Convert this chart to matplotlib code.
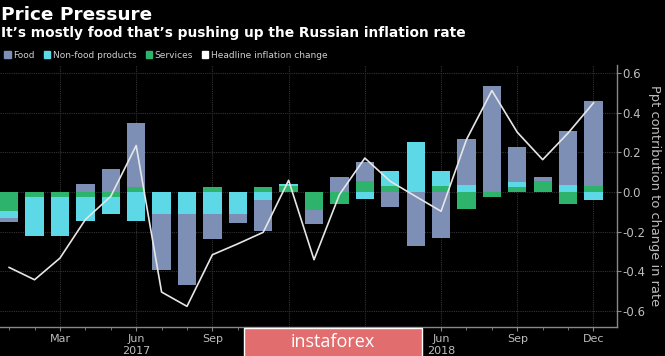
import matplotlib

matplotlib.use("Agg")
import matplotlib.pyplot as plt
import numpy as np
from matplotlib.patches import Patch, Rectangle

BG = "#000000"
FOOD_C = "#7d8fb5"
NONFOOD_C = "#5dd8e6"
SERV_C = "#2db36b"
LINE_C = "#e6e6e6"
GRID_C = "#333333"
TICK_C = "#bdbdbd"

# Jan 2017 .. Dec 2018
months = ["Jan", "Feb", "Mar", "Apr", "May", "Jun", "Jul", "Aug", "Sep", "Oct", "Nov", "Dec"] * 2
food = [-0.022, 0.0, 0.0, 0.040, 0.116, 0.324, -0.281, -0.358, -0.124, -0.045, -0.156, 0.0,
        -0.069, 0.076, 0.094, -0.076, -0.271, -0.232, 0.234, 0.536, 0.178, 0.018, 0.272, 0.432]
nonfood = [-0.034, -0.193, -0.193, -0.121, -0.084, -0.148, -0.111, -0.111, -0.111, -0.111, -0.039, 0.010,
           0.0, 0.0, -0.035, 0.079, 0.250, 0.079, 0.034, 0.0, 0.025, 0.0, 0.034, -0.039]
services = [-0.097, -0.027, -0.027, -0.027, -0.027, 0.024, 0.0, 0.0, 0.024, 0.0, 0.024, 0.028,
            -0.092, -0.059, 0.057, 0.029, 0.0, 0.029, -0.086, -0.027, 0.024, 0.057, -0.059, 0.029]
headline = [-0.380, -0.442, -0.333, -0.139, -0.022, 0.234, -0.504, -0.576, -0.316, -0.261, -0.203, 0.059,
            -0.341, -0.013, 0.171, 0.054, -0.022, -0.097, 0.264, 0.511, 0.301, 0.163, 0.297, 0.449]
tick_idx = [2, 5, 8, 11, 14, 17, 20, 23]
# Dec 2017 and Mar 2018 sit under the watermark in the reference
tick_labels = ["Mar", "Jun\n2017", "Sep", "", "", "Jun\n2018", "Sep", "Dec"]

fig = plt.figure(figsize=(6.65, 3.56), dpi=100)
fig.patch.set_facecolor(BG)
ax = fig.add_axes([0.0, 0.0815, 0.928, 0.736])
ax.set_facecolor(BG)

x = np.arange(len(months))
w = 0.72
pos_base = np.zeros(len(x))
neg_base = np.zeros(len(x))
# stack order from zero outward: services, non-food, food
for vals, col in [(services, SERV_C), (nonfood, NONFOOD_C), (food, FOOD_C)]:
    v = np.array(vals)
    pos = np.where(v > 0, v, 0)
    neg = np.where(v < 0, v, 0)
    ax.bar(x, pos, w, bottom=pos_base, color=col, zorder=2)
    ax.bar(x, neg, w, bottom=neg_base, color=col, zorder=2)
    pos_base += pos
    neg_base += neg

ax.plot(x, headline, color=LINE_C, lw=1.2, zorder=3)

ax.set_xlim(-0.36, 23.93)
ax.set_ylim(-0.68, 0.64)

ax.yaxis.tick_right()
ax.yaxis.set_label_position("right")
ax.set_yticks([-0.6, -0.4, -0.2, 0.0, 0.2, 0.4, 0.6])
ax.set_yticklabels(["-0.6", "-0.4", "-0.2", "0.0", "0.2", "0.4", "0.6"])
ax.set_ylabel("Ppt contribution to change in rate", rotation=270, labelpad=11,
              color=TICK_C, fontsize=9.4)

ax.set_xticks(tick_idx)
ax.set_xticklabels(tick_labels)
ax.set_xticks(x, minor=True)
ax.tick_params(axis="x", which="major", length=3, color="#888888", labelcolor=TICK_C,
               labelsize=8, pad=2)
ax.tick_params(axis="x", which="minor", length=2, color="#888888")
ax.tick_params(axis="y", length=3, color="#888888", labelcolor=TICK_C, labelsize=8.5, pad=1)

ax.grid(True, color=GRID_C, lw=0.8, ls=(0, (1, 1)), zorder=0)
ax.set_axisbelow(True)
for s in ["top", "left"]:
    ax.spines[s].set_visible(False)
for s in ["bottom", "right"]:
    ax.spines[s].set_color("#888888")
    ax.spines[s].set_linewidth(1.0)

fig.text(0.002, 0.958, "Price Pressure", color="white", fontsize=13.3,
         fontweight="bold", va="center", ha="left")
fig.text(0.002, 0.906, "It\u2019s mostly food that\u2019s pushing up the Russian inflation rate",
         color="white", fontsize=9.9, fontweight="bold", va="center", ha="left")

handles = [Patch(color=FOOD_C), Patch(color=NONFOOD_C), Patch(color=SERV_C), Patch(color="white")]
labels = ["Food", "Non-food products", "Services", "Headline inflation change"]
leg = fig.legend(handles, labels, loc="center left", bbox_to_anchor=(0.004, 0.845), ncol=4,
                 frameon=False, fontsize=6.5, handlelength=0.7, handleheight=0.7,
                 handletextpad=0.3, columnspacing=1.0, borderaxespad=0, borderpad=0.2)
for t in leg.get_texts():
    t.set_color("#cfcfcf")

# watermark box
fig.patches.append(Rectangle((0.367, -0.01), 0.268, 0.089, transform=fig.transFigure,
                             facecolor="#e26d6f", edgecolor="white", lw=1.0, zorder=10))
fig.text(0.5, 0.039, "instaforex", color="white", fontsize=13, ha="center", va="center",
         fontfamily="Open Sans", zorder=11)

fig.savefig("out.png", dpi=100, facecolor=BG)
